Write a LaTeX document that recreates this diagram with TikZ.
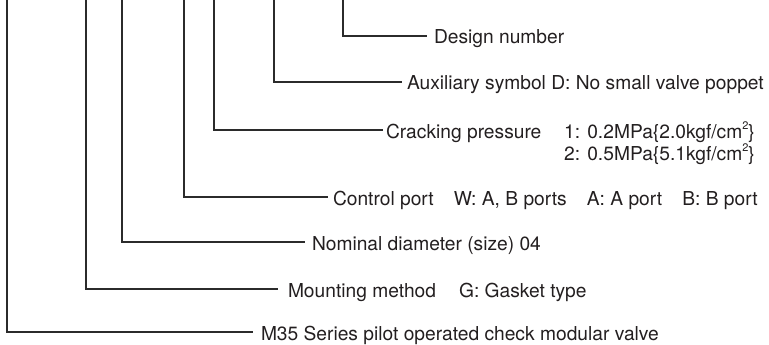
\documentclass[tikz,border=0pt]{standalone}
\usepackage{fontspec}
\setmainfont{TeX Gyre Heros}
\definecolor{txtcol}{HTML}{231F20}
\definecolor{lincol}{HTML}{2B2B2B}
\newcommand{\sqsup}{\raisebox{0.42em}{\fontsize{11}{11}\selectfont 2}}
\begin{document}
\begin{tikzpicture}[x=1pt,y=-1pt,
  lbl/.style={anchor=west,inner ysep=0pt,outer sep=0pt,text height=16pt,text depth=0pt,
    font=\fontsize{19.2}{22}\selectfont,text=txtcol},
  vals/.style={anchor=base west,inner sep=0pt,font=\fontsize{19.2}{22}\selectfont,text=txtcol},
  lead/.style={draw=lincol,line width=1.1pt}]
\useasboundingbox (0,0) rectangle (769,345);
% top ends of the leader lines
\coordinate (t1) at (343,0);
\coordinate (t2) at (274,0);
\coordinate (t3) at (214,0);
\coordinate (t4) at (184,0);
\coordinate (t5) at (122,0);
\coordinate (t6) at (86,0);
\coordinate (t7) at (7,0);
% labels
\node[lbl,inner xsep=7pt] (n1) at (427,36) {Design number};
\node[lbl,inner xsep=5pt] (n2) at (402,82) {Auxiliary symbol D: No small valve poppet};
\node[lbl,inner xsep=3pt] (n3) at (383,130) {Cracking pressure};
\node[vals] (n3a) at (564,138) {1: 0.2MPa\{2.0kgf/cm\sqsup\}};
\node[vals] (n3b) at (564,160) {2: 0.5MPa\{5.1kgf/cm\sqsup\}};
\node[lbl,inner xsep=5pt] (n4) at (328,197) {Control port\hspace{1.05em}W: A, B ports\hspace{1.05em}A: A port\hspace{1.05em}B: B port};
\node[lbl,inner xsep=7pt] (n5) at (305,242) {Nominal diameter (size) 04};
\node[lbl,inner xsep=10pt] (n6) at (278,289) {Mounting method\hspace{1.2em}G: Gasket type};
\node[lbl,inner xsep=8pt] (n7) at (253,332) {M35 Series pilot operated check modular valve};
% leaders
\draw[lead] (t1) |- (n1.west);
\draw[lead] (t2) |- (n2.west);
\draw[lead] (t3) |- (n3.west);
\draw[lead] (t4) |- (n4.west);
\draw[lead] (t5) |- (n5.west);
\draw[lead] (t6) |- (n6.west);
\draw[lead] (t7) |- (n7.west);
\end{tikzpicture}
\end{document}
